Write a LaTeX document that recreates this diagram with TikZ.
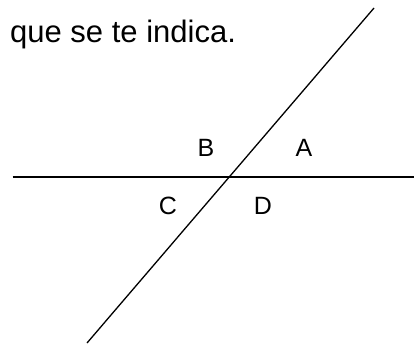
\documentclass[tikz,border=0pt]{standalone}
\usepackage{fontspec}
\setmainfont{Liberation Sans}
\usetikzlibrary{positioning}
\tikzset{
  line/.style={line width=1.3pt,draw=black},
  angle label/.style={font=\fontsize{25}{29}\selectfont,anchor=base,inner sep=0pt},
}
\begin{document}
\begin{tikzpicture}[x=1pt,y=-1pt]
  \useasboundingbox (0,0) rectangle (414,343);
  % instruction text
  \node[anchor=base west,inner sep=0pt,font=\fontsize{31}{36}\selectfont] (txt) at (10,42) {que se te indica.};
  % the two lines
  \coordinate (h1) at (12.5,177);
  \coordinate (h2) at (414,177);
  \coordinate (d1) at (374,8);
  \coordinate (d2) at (87,343);
  \draw[line] (h1) -- (h2);
  \draw[line] (d1) -- (d2);
  % angle names
  \node[angle label] (B) at (206,156) {B};
  \node[angle label] (A) at (304,156) {A};
  \node[angle label] (C) at (168,214) {C};
  \node[angle label] (D) at (263,214) {D};
\end{tikzpicture}
\end{document}
